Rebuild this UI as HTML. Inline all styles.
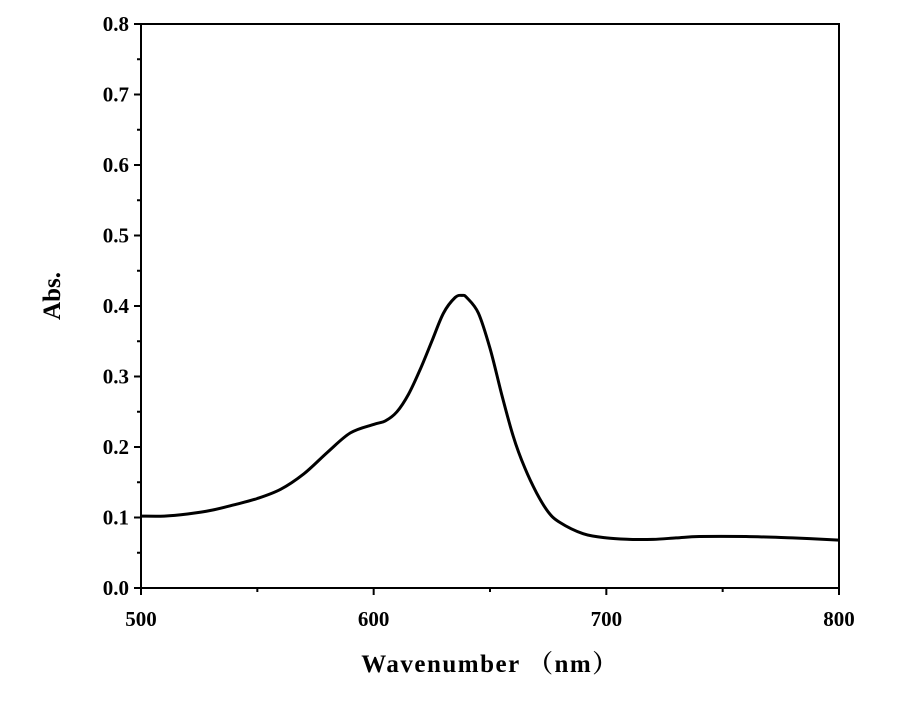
<!DOCTYPE html>
<html><head><meta charset="utf-8"><style>
body{margin:0;background:#fff;width:907px;height:696px;overflow:hidden}
svg text{font-family:"Liberation Serif","Noto Serif CJK SC",serif;font-weight:bold;fill:#000}
</style></head><body>
<svg id="chart" width="907" height="696">
<rect x="141" y="24" width="698" height="564" fill="none" stroke="#000" stroke-width="2"/>
<g id="ticks"></g>
<path id="curve" fill="none" stroke="#000" stroke-width="3" stroke-linejoin="round"/>
<text x="490" y="672" text-anchor="middle" font-size="25" letter-spacing="1.5">Wavenumber （nm）</text>
<text transform="translate(60,296) rotate(-90)" text-anchor="middle" font-size="25">Abs.</text>
</svg>
<script>
const xs=[500,510,520,530,540,550,560,570,580,590,600,605,610,615,620,625,630,635,638,640,645,650,655,660,665,670,675,680,690,700,710,720,730,740,760,780,800];
const ys=[0.102,0.102,0.105,0.110,0.118,0.127,0.140,0.162,0.192,0.220,0.232,0.237,0.250,0.275,0.310,0.350,0.390,0.412,0.415,0.412,0.390,0.340,0.275,0.215,0.170,0.135,0.108,0.093,0.077,0.071,0.069,0.069,0.071,0.073,0.073,0.071,0.068];
const xTicks=[500,600,700,800];
const yTicks=[0.0,0.1,0.2,0.3,0.4,0.5,0.6,0.7,0.8];
const X=v=>141+(v-500)*698/300, Y=v=>588-v*705;
const ns="http://www.w3.org/2000/svg", g=document.getElementById('ticks');
function ln(x1,y1,x2,y2,name){const l=document.createElementNS(ns,'line');l.setAttribute('x1',x1);l.setAttribute('y1',y1);l.setAttribute('x2',x2);l.setAttribute('y2',y2);l.setAttribute('stroke','#000');l.setAttribute('stroke-width',2);


g.appendChild(l);}
function tx(x,y,s,anchor,name){const t=document.createElementNS(ns,'text');t.setAttribute('x',x);t.setAttribute('y',y);t.setAttribute('text-anchor',anchor);t.setAttribute('font-size','21');t.textContent=s;


g.appendChild(t);}
xTicks.forEach((v,i)=>{ln(X(v),588,X(v),595,'x-tick');tx(X(v),626,String(v),'middle','x-tick-label');if(i<xTicks.length-1)ln(X(v+50),588,X(v+50),592,'x-minor-tick');});
yTicks.forEach((v,i)=>{ln(141,Y(v),134,Y(v),'y-tick');tx(129,Y(v)+7,v.toFixed(1),'end','y-tick-label');if(i<yTicks.length-1)ln(141,Y(v+0.05),137,Y(v+0.05),'y-minor-tick');});
const P=xs.map((x,i)=>[X(x),Y(ys[i])]);
let d='M'+P[0][0].toFixed(1)+','+P[0][1].toFixed(1);
for(let i=0;i<P.length-1;i++){const p0=P[i-1]||P[i],p1=P[i],p2=P[i+1],p3=P[i+2]||p2;
const c1=[p1[0]+(p2[0]-p0[0])/6,p1[1]+(p2[1]-p0[1])/6],c2=[p2[0]-(p3[0]-p1[0])/6,p2[1]-(p3[1]-p1[1])/6];
d+='C'+c1.map(v=>v.toFixed(1))+' '+c2.map(v=>v.toFixed(1))+' '+p2.map(v=>v.toFixed(1));}
document.getElementById('curve').setAttribute('d',d);
</script>
</body></html>
